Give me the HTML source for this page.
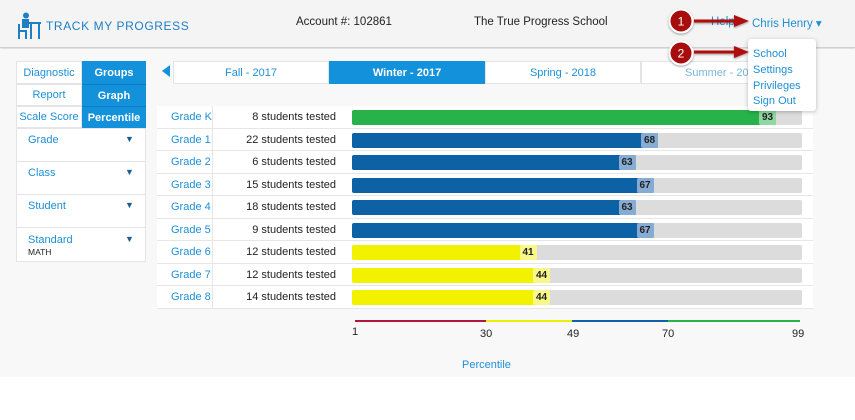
<!DOCTYPE html>
<html><head><meta charset="utf-8"><style>
*{box-sizing:border-box;margin:0;padding:0}
body{width:855px;height:420px;overflow:hidden;background:#fff;font-family:"Liberation Sans",sans-serif;position:relative;font-size:11px}
.a{position:absolute}
.hdr{left:0;top:0;width:855px;height:48px;background:#f4f4f4;border-bottom:1px solid #d2d2d2;box-shadow:0 1px 3px rgba(0,0,0,.2)}
.main{left:0;top:49px;width:855px;height:328px;background:#f8f8f8}
.blue{color:#1e8fd5}
.cell{position:absolute;display:flex;align-items:center;justify-content:center;font-size:11px}
.sel{background:#1392db;color:#fff;font-weight:bold}
.wh{background:#fff;border:1px solid #e4e4e4}
.row{position:absolute;left:157px;width:656px;height:22.5px;background:#fff;border-bottom:1px solid #e6e6e6}
.bar{position:absolute;left:352px;width:450px;height:15px;background:#dcdcdc;border-radius:2px}
.fill{position:absolute;left:0;top:0;height:15px;border-radius:2px}
.badge{position:absolute;top:0;height:15px;width:17px;font-size:10px;font-weight:bold;color:#222;display:flex;align-items:center;justify-content:center;border-radius:2px}
</style></head><body>
<div class="a hdr"></div>
<svg class="a" style="left:16px;top:12px" width="26" height="28" viewBox="0 0 26 28"><g fill="#1e7fc4"><circle cx="10" cy="3.5" r="3"/><rect x="6" y="7" width="7" height="9"/><rect x="2" y="12" width="2" height="15"/><rect x="2" y="18" width="9" height="2"/><rect x="9" y="18" width="2" height="9"/><rect x="12" y="10" width="13" height="2"/><rect x="22" y="10" width="2" height="17"/><rect x="14" y="12" width="2" height="15"/></g></svg>
<div class="a" style="left:46px;top:19px;font-size:12px;color:#1e7fc4;letter-spacing:0.6px">TRACK MY PROGRESS</div>
<div class="a" style="left:296px;top:16px;font-size:11.5px;color:#222">Account #: 102861</div>
<div class="a" style="left:474px;top:16px;font-size:11.5px;color:#222">The True Progress School</div>
<div class="a blue" style="left:711px;top:16px;font-size:11.5px">Help</div>
<div class="a blue" style="left:752px;top:16px;font-size:11.5px">Chris Henry ▾</div>
<div class="a main"></div>
<div class="cell wh blue" style="left:16px;top:61px;width:66px;height:23px">Diagnostic</div>
<div class="cell sel" style="left:82px;top:61px;width:64px;height:23px">Groups</div>
<div class="cell wh blue" style="left:16px;top:84px;width:66px;height:22px">Report</div>
<div class="cell sel" style="left:82px;top:84px;width:64px;height:22px;border-top:1px solid #0d7cc0">Graph</div>
<div class="cell wh blue" style="left:16px;top:106px;width:66px;height:22px">Scale Score</div>
<div class="cell sel" style="left:82px;top:106px;width:64px;height:22px;border-top:1px solid #0d7cc0">Percentile</div>
<div class="a wh" style="left:16px;top:128px;width:130px;height:34px"></div>
<div class="a wh" style="left:16px;top:161px;width:130px;height:34px"></div>
<div class="a wh" style="left:16px;top:194px;width:130px;height:34px"></div>
<div class="a wh" style="left:16px;top:227px;width:130px;height:35px"></div>
<div class="a blue" style="left:28px;top:134px">Grade</div><div class="a" style="left:125px;top:134px;color:#1a5e96;font-size:9px">▼</div>
<div class="a blue" style="left:28px;top:167px">Class</div><div class="a" style="left:125px;top:167px;color:#1a5e96;font-size:9px">▼</div>
<div class="a blue" style="left:28px;top:200px">Student</div><div class="a" style="left:125px;top:200px;color:#1a5e96;font-size:9px">▼</div>
<div class="a blue" style="left:28px;top:234px">Standard</div><div class="a" style="left:125px;top:234px;color:#1a5e96;font-size:9px">▼</div>
<div class="a" style="left:28px;top:247px;font-size:8.5px;color:#222">MATH</div>
<div class="a" style="left:162px;top:65px;width:0;height:0;border-top:6px solid transparent;border-bottom:6px solid transparent;border-right:8px solid #1392db"></div>
<div class="cell wh blue" style="left:173px;top:61px;width:156px;height:23px">Fall - 2017</div>
<div class="cell sel" style="left:329px;top:61px;width:156px;height:23px">Winter - 2017</div>
<div class="cell wh blue" style="left:485px;top:61px;width:156px;height:23px">Spring - 2018</div>
<div class="cell wh" style="left:641px;top:61px;width:172px;height:23px;color:#7ab4dc;justify-content:flex-start;padding-left:43px">Summer - 2018</div>
<div class="a" style="left:157px;top:106px;width:656px;height:203px;border:1px solid #e4e4e4;background:#fff"></div>
<div id="rows"></div>
<div class="a" style="left:355px;top:320px;width:131px;height:2px;background:#b0173a"></div>
<div class="a" style="left:486px;top:320px;width:86px;height:2px;background:#eeee00"></div>
<div class="a" style="left:572px;top:320px;width:96px;height:2px;background:#1062a8"></div>
<div class="a" style="left:668px;top:320px;width:132px;height:2px;background:#27b24a"></div>
<div class="a" style="left:352px;top:326px;color:#222">1</div>
<div class="a" style="left:480px;top:328px;color:#222">30</div>
<div class="a" style="left:567px;top:328px;color:#222">49</div>
<div class="a" style="left:662px;top:328px;color:#222">70</div>
<div class="a" style="left:792px;top:328px;color:#222">99</div>
<div class="a blue" style="left:462px;top:359px">Percentile</div>
<div class="a" style="left:748px;top:39px;width:68px;height:72px;background:#fff;border-radius:3px;box-shadow:0 1px 4px rgba(0,0,0,.25)"></div>
<div class="a blue" style="left:753px;top:47px;line-height:15.8px;font-size:11px">School<br>Settings<br>Privileges<br>Sign Out</div>
<svg class="a" style="left:0;top:0" width="855" height="80">
<defs><filter id="s"><feDropShadow dx="0" dy="1" stdDeviation="1" flood-opacity=".4"/></filter></defs>
<g filter="url(#s)"><line x1="694" y1="21" x2="736" y2="21" stroke="#b00d0d" stroke-width="3"/><polygon points="734,15 749,21 734,27" fill="#b00d0d"/>
<line x1="694" y1="52" x2="736" y2="52" stroke="#b00d0d" stroke-width="3"/><polygon points="734,46 749,52 734,58" fill="#b00d0d"/>
<circle cx="681" cy="21" r="11.5" fill="#a80c0c" stroke="#fff" stroke-width="2"/><circle cx="681" cy="53" r="11.5" fill="#a80c0c" stroke="#fff" stroke-width="2"/></g>
<text x="681" y="25.5" fill="#fff" font-size="12" text-anchor="middle" font-family="Liberation Sans">1</text>
<text x="681" y="57.5" fill="#fff" font-size="12" text-anchor="middle" font-family="Liberation Sans">2</text>
</svg>
<script>
var d=[["Grade K","8",93,"#27b24a","#8fd8a2",424],["Grade 1","22",68,"#0d62a6","#86acd4"],["Grade 2","6",63,"#0d62a6","#86acd4"],["Grade 3","15",67,"#0d62a6","#86acd4"],["Grade 4","18",63,"#0d62a6","#86acd4"],["Grade 5","9",67,"#0d62a6","#86acd4"],["Grade 6","12",41,"#f2f200","#f7f78a"],["Grade 7","12",44,"#f2f200","#f7f78a"],["Grade 8","14",44,"#f2f200","#f7f78a"]];
var h="";d.forEach(function(r,i){var y=106+i*22.5,w=r[5]||r[2]*4.5;
h+='<div class="row" style="top:'+y+'px"></div><div class="a" style="left:212px;top:'+y+'px;width:1px;height:22.5px;background:#e6e6e6"></div>';
h+='<div class="a blue" style="left:171px;top:'+(y+5)+'px">'+r[0]+'</div>';
h+='<div class="a" style="left:212px;width:124px;text-align:right;top:'+(y+5)+'px;color:#222">'+r[1]+' students tested</div>';
h+='<div class="bar" style="top:'+(y+4)+'px"><div class="fill" style="width:'+w+'px;background:'+r[3]+'"></div><div class="badge" style="left:'+(w-17)+'px;background:'+r[4]+'">'+r[2]+'</div></div>';});
document.getElementById("rows").innerHTML=h;
</script>
</body></html>
